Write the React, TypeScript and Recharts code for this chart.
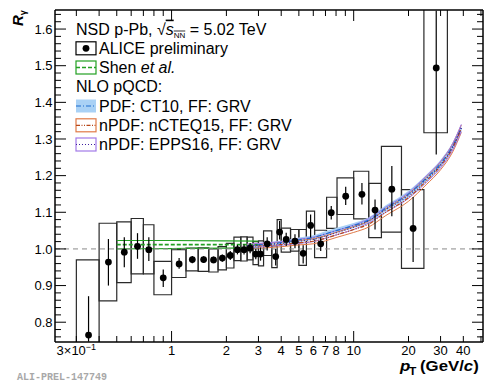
import React from "react";
import {
  ComposedChart,
  XAxis,
  YAxis,
  Scatter,
  ErrorBar,
  Area,
  Line,
  ReferenceArea,
  ReferenceLine,
} from "recharts";

// ALICE preliminary, R_gamma vs pT
const pt = [0.35, 0.45, 0.55, 0.65, 0.75, 0.9, 1.1, 1.3, 1.5, 1.7, 1.9, 2.1, 2.3, 2.5, 2.7, 2.9, 3.08, 3.35, 3.73, 3.92, 4.26, 4.76, 5.28, 5.8, 6.59, 7.53, 9.04, 11.1, 13.1, 16.2, 21.2, 28.4];
const binLo = [0.3, 0.4, 0.5, 0.6, 0.7, 0.8, 1.0, 1.2, 1.4, 1.6, 1.8, 2.0, 2.2, 2.4, 2.6, 2.8, 3.0, 3.2, 3.55, 3.8, 4.0, 4.5, 5.0, 5.5, 6.1, 7.1, 8.1, 10, 12.1, 14.2, 18.3, 24.3];
const binHi = [0.4, 0.5, 0.6, 0.7, 0.8, 1.0, 1.2, 1.4, 1.6, 1.8, 2.0, 2.2, 2.4, 2.6, 2.8, 3.0, 3.2, 3.55, 3.8, 4.0, 4.5, 5.0, 5.5, 6.1, 7.1, 8.1, 10, 12.1, 14.2, 18.3, 24.3, 32.7];
const rGamma = [0.765, 0.964, 0.991, 1.007, 0.998, 0.921, 0.959, 0.971, 0.971, 0.97, 0.975, 0.982, 0.998, 0.998, 1.002, 0.986, 0.986, 1.014, 0.979, 1.046, 1.026, 1.021, 0.988, 1.064, 1.014, 1.099, 1.144, 1.149, 1.106, 1.163, 1.056, 1.494];
const statLo = [0.747, 0.9, 0.95, 0.973, 0.967, 0.896, 0.946, 0.961, 0.962, 0.961, 0.965, 0.97, 0.985, 0.985, 0.988, 0.972, 0.968, 0.996, 0.955, 1.026, 1.008, 1.002, 0.96, 1.031, 0.994, 1.08, 1.12, 1.121, 1.053, 1.089, 0.964, 1.258];
const statHi = [0.871, 1.027, 1.032, 1.043, 1.032, 0.944, 0.975, 0.981, 0.98, 0.979, 0.985, 0.994, 1.011, 1.012, 1.016, 1.0, 1.004, 1.032, 1.0, 1.076, 1.044, 1.04, 1.01, 1.094, 1.032, 1.117, 1.17, 1.18, 1.135, 1.226, 1.142, 1.65];
const sysLo = [0.55, 0.858, 0.908, 0.932, 0.932, 0.875, 0.922, 0.94, 0.939, 0.937, 0.943, 0.948, 0.968, 0.967, 0.97, 0.957, 0.954, 0.982, 0.949, 1.012, 0.991, 0.994, 0.955, 1.026, 0.976, 1.056, 1.094, 1.082, 1.031, 1.046, 0.947, 1.317];
const sysHi = [0.97, 1.07, 1.074, 1.083, 1.066, 0.966, 0.998, 1.002, 1.003, 1.0, 1.006, 1.015, 1.032, 1.033, 1.032, 1.02, 1.022, 1.049, 1.008, 1.08, 1.057, 1.053, 1.053, 1.103, 1.051, 1.141, 1.194, 1.212, 1.179, 1.28, 1.162, 1.8];

// Shen et al.
const shenPt = [0.5, 1, 2, 3];
const shenLo = [1.0, 1.001, 1.002, 1.003];
const shenMid = [1.012, 1.012, 1.012, 1.011];
const shenHi = [1.023, 1.023, 1.022, 1.021];

// NLO pQCD
const nloPt = [2.6, 3, 4, 5, 6, 7, 8, 10, 12, 15, 20, 25, 30, 35, 39];
const ct10Lo = [1.004, 1.006, 1.012, 1.019, 1.025, 1.034, 1.043, 1.057, 1.071, 1.103, 1.141, 1.184, 1.223, 1.271, 1.32];
const ct10Mid = [1.009, 1.011, 1.017, 1.025, 1.031, 1.041, 1.05, 1.064, 1.078, 1.111, 1.15, 1.193, 1.233, 1.281, 1.33];
const ct10Hi = [1.014, 1.016, 1.022, 1.031, 1.037, 1.048, 1.057, 1.071, 1.085, 1.119, 1.159, 1.202, 1.243, 1.291, 1.34];
const ncteqLo = [1.0, 1.002, 1.006, 1.011, 1.014, 1.022, 1.031, 1.045, 1.059, 1.091, 1.13, 1.175, 1.216, 1.265, 1.318];
const ncteqMid = [1.006, 1.008, 1.012, 1.017, 1.021, 1.029, 1.038, 1.053, 1.067, 1.1, 1.14, 1.185, 1.227, 1.276, 1.328];
const ncteqHi = [1.012, 1.014, 1.018, 1.023, 1.028, 1.036, 1.045, 1.061, 1.075, 1.109, 1.15, 1.195, 1.238, 1.287, 1.338];
const eppsLo = [1.003, 1.005, 1.01, 1.015, 1.02, 1.029, 1.038, 1.053, 1.07, 1.1, 1.138, 1.181, 1.221, 1.27, 1.32];
const eppsMid = [1.008, 1.01, 1.015, 1.021, 1.026, 1.035, 1.044, 1.059, 1.076, 1.107, 1.146, 1.19, 1.23, 1.279, 1.33];
const eppsHi = [1.013, 1.015, 1.02, 1.027, 1.032, 1.041, 1.05, 1.065, 1.082, 1.114, 1.154, 1.199, 1.239, 1.288, 1.34];

// axes
const xTicks = [0.3, 0.4, 0.5, 0.6, 0.7, 0.8, 0.9, 1, 2, 3, 4, 5, 6, 7, 8, 9, 10, 20, 30, 40, 50];
const xMajorTicks = [1, 10];
const xLabelled = [0.3, 1, 2, 3, 4, 5, 6, 7, 8, 10, 20, 30, 40];
const yMajorTicks = [0.8, 0.9, 1.0, 1.1, 1.2, 1.3, 1.4, 1.5, 1.6];

const X_DOMAIN = [0.229, 51.3];
const Y_DOMAIN = [0.746, 1.652];
const FONT = "'Liberation Sans', Arial, Helvetica, sans-serif";

const yTicks: number[] = [];
for (let k = 76; k <= 164; k += 2) yTicks.push(k / 100);
const isYMajor = (v: number) => yMajorTicks.some((m) => Math.abs(m - v) < 1e-6);

const points = pt.map((p, i) => ({
  pt: p,
  r: rGamma[i],
  stat: [rGamma[i] - statLo[i], statHi[i] - rGamma[i]],
}));

const band = (xs: number[], lo: number[], mid: number[], hi: number[]) =>
  xs.map((p, i) => ({ pt: p, band: [lo[i], hi[i]], mid: mid[i] }));

const shen = band(shenPt, shenLo, shenMid, shenHi);
const ct10 = band(nloPt, ct10Lo, ct10Mid, ct10Hi);
const ncteq = band(nloPt, ncteqLo, ncteqMid, ncteqHi);
const epps = band(nloPt, eppsLo, eppsMid, eppsHi);

const BLUE_FILL = "#a9d1f5";
const BLUE_LINE = "#1f6fd0";
const ORANGE_EDGE = "#e07a48";
const ORANGE_LINE = "#b8481a";
const PURPLE_EDGE = "#a27ae8";
const PURPLE_LINE = "#3f1fa0";
const GREEN = "#22a022";

const BottomTick = (props: any) => {
  const { x, y, payload } = props;
  const v = payload.value;
  const len = xMajorTicks.includes(v) ? 11 : 6;
  const labelled = xLabelled.includes(v);
  return (
    <g>
      <line x1={x} x2={x} y1={y} y2={y - len} stroke="#000" strokeWidth={1} />
      {labelled && v === 0.3 && (
        <text x={x} y={y + 13} textAnchor="middle" fontSize={13} fontFamily={FONT}>
          3×10<tspan fontSize={9} dy={-5}>−1</tspan>
        </text>
      )}
      {labelled && v !== 0.3 && (
        <text x={x} y={y + 13} textAnchor="middle" fontSize={13} fontFamily={FONT}>
          {v}
        </text>
      )}
    </g>
  );
};

const TopTick = (props: any) => {
  const { x, y, payload } = props;
  const len = xMajorTicks.includes(payload.value) ? 11 : 6;
  return <line x1={x} x2={x} y1={y} y2={y + len} stroke="#000" strokeWidth={1} />;
};

const LeftTick = (props: any) => {
  const { x, y, payload } = props;
  const major = isYMajor(payload.value);
  return (
    <g>
      <line x1={x} x2={x + (major ? 11 : 6)} y1={y} y2={y} stroke="#000" strokeWidth={1} />
      {major && (
        <text x={x - 2.5} y={y + 4.6} textAnchor="end" fontSize={13} fontFamily={FONT}>
          {payload.value.toFixed(1)}
        </text>
      )}
    </g>
  );
};

const RightTick = (props: any) => {
  const { x, y, payload } = props;
  const major = isYMajor(payload.value);
  return <line x1={x} x2={x - (major ? 11 : 6)} y1={y} y2={y} stroke="#000" strokeWidth={1} />;
};

const Dot = (props: any) => <circle cx={props.cx} cy={props.cy} r={3.4} fill="#000" />;

const rows = [29, 48.3, 67.5, 86.8, 106, 125.3, 144.5];

const Legend = () => {
  const ix = 76;
  const tx = 99;
  const base = (r: number) => r + 5.6;
  const box = (r: number) => ({ x: ix, y: r - 6.5, width: 20, height: 13 });
  return (
    <g fontFamily={FONT} fontSize={16} fill="#000">
      <text x={ix} y={base(rows[0])}>
        NSD p-Pb, √<tspan fontStyle="italic" textDecoration="overline">s</tspan>
        <tspan fontSize={8} dy={3} textDecoration="overline">NN</tspan>
        <tspan dy={-3}> = 5.02 TeV</tspan>
      </text>

      <rect {...box(rows[1])} fill="none" stroke="#000" strokeWidth={1.2} />
      <circle cx={ix + 10} cy={rows[1]} r={3.4} fill="#000" />
      <text x={tx} y={base(rows[1])}>ALICE preliminary</text>

      <rect {...box(rows[2])} fill="none" stroke={GREEN} strokeWidth={1.2} />
      <line x1={ix} x2={ix + 20} y1={rows[2]} y2={rows[2]} stroke={GREEN} strokeWidth={1.5} strokeDasharray="4 2" />
      <text x={tx} y={base(rows[2])}>
        Shen <tspan fontStyle="italic">et al.</tspan>
      </text>

      <text x={ix} y={base(rows[3])}>NLO pQCD:</text>

      <rect {...box(rows[4])} fill={BLUE_FILL} stroke="none" />
      <line x1={ix} x2={ix + 20} y1={rows[4]} y2={rows[4]} stroke={BLUE_LINE} strokeWidth={1.2} strokeDasharray="5 2 1 2" />
      <text x={tx} y={base(rows[4])}>PDF: CT10, FF: GRV</text>

      <rect {...box(rows[5])} fill="none" stroke={ORANGE_EDGE} strokeWidth={1.2} />
      <line x1={ix} x2={ix + 20} y1={rows[5]} y2={rows[5]} stroke={ORANGE_LINE} strokeWidth={1.2} strokeDasharray="4 1.5 1 1.5 1 1.5" />
      <text x={tx} y={base(rows[5])}>nPDF: nCTEQ15, FF: GRV</text>

      <rect {...box(rows[6])} fill="none" stroke={PURPLE_EDGE} strokeWidth={1.2} />
      <line x1={ix} x2={ix + 20} y1={rows[6]} y2={rows[6]} stroke={PURPLE_LINE} strokeWidth={1.2} strokeDasharray="1 2" />
      <text x={tx} y={base(rows[6])}>nPDF: EPPS16, FF: GRV</text>
    </g>
  );
};

const axisLine = { stroke: "#000", strokeWidth: 1.5 };

export default function App() {
  return (
    <div style={{ position: "absolute", left: 0, top: 0, width: 485, height: 383, background: "#fff" }}>
      <ComposedChart width={485} height={383} margin={{ top: 9, right: 1, bottom: 40, left: 54 }}>
        <XAxis
          dataKey="pt"
          type="number"
          scale="log"
          domain={X_DOMAIN}
          allowDataOverflow
          ticks={xTicks}
          interval={0}
          height={1}
          tickSize={0}
          tickMargin={0}
          tickLine={false}
          tick={(p: any) => <BottomTick {...p} />}
          axisLine={axisLine}
        />
        <XAxis
          xAxisId="top"
          orientation="top"
          dataKey="pt"
          type="number"
          scale="log"
          domain={X_DOMAIN}
          allowDataOverflow
          ticks={xTicks}
          interval={0}
          height={1}
          tickSize={0}
          tickMargin={0}
          tickLine={false}
          tick={(p: any) => <TopTick {...p} />}
          axisLine={axisLine}
        />
        <YAxis
          type="number"
          domain={Y_DOMAIN}
          allowDataOverflow
          ticks={yTicks}
          interval={0}
          width={1}
          tickSize={0}
          tickMargin={0}
          tickLine={false}
          tick={(p: any) => <LeftTick {...p} />}
          axisLine={axisLine}
        />
        <YAxis
          yAxisId="right"
          orientation="right"
          type="number"
          domain={Y_DOMAIN}
          allowDataOverflow
          ticks={yTicks}
          interval={0}
          width={1}
          tickSize={0}
          tickMargin={0}
          tickLine={false}
          tick={(p: any) => <RightTick {...p} />}
          axisLine={axisLine}
        />

        <ReferenceLine y={1} stroke="#8a8a8a" strokeDasharray="5 4" strokeWidth={1} />

        {pt.map((p, i) => (
          <ReferenceArea
            key={"sys" + i}
            x1={binLo[i]}
            x2={binHi[i]}
            y1={sysLo[i]}
            y2={sysHi[i]}
            fill="none"
            fillOpacity={0}
            stroke="#2a2a2a"
            strokeWidth={1.2}
            ifOverflow="hidden"
          />
        ))}

        <Area data={shen} dataKey="band" type="monotone" fill="none" stroke={GREEN} strokeWidth={1.2} isAnimationActive={false} />
        <Line data={shen} dataKey="mid" type="monotone" stroke={GREEN} strokeWidth={1.8} strokeDasharray="4 2" dot={false} isAnimationActive={false} />

        <Area data={ct10} dataKey="band" type="monotone" fill={BLUE_FILL} fillOpacity={1} stroke="none" isAnimationActive={false} />
        <Line data={ct10} dataKey="mid" type="monotone" stroke={BLUE_LINE} strokeWidth={1.2} strokeDasharray="5 2 1 2" dot={false} isAnimationActive={false} />

        <Area data={ncteq} dataKey="band" type="monotone" fill="none" stroke={ORANGE_EDGE} strokeWidth={1} isAnimationActive={false} />
        <Line data={ncteq} dataKey="mid" type="monotone" stroke={ORANGE_LINE} strokeWidth={1.2} strokeDasharray="4 1.5 1 1.5 1 1.5" dot={false} isAnimationActive={false} />

        <Area data={epps} dataKey="band" type="monotone" fill="none" stroke={PURPLE_EDGE} strokeWidth={1} isAnimationActive={false} />
        <Line data={epps} dataKey="mid" type="monotone" stroke={PURPLE_LINE} strokeWidth={1.2} strokeDasharray="1 2" dot={false} isAnimationActive={false} />

        <Scatter data={points} dataKey="r" shape={(p: any) => <Dot {...p} />} isAnimationActive={false}>
          <ErrorBar dataKey="stat" direction="y" width={0} stroke="#000" strokeWidth={1.2} />
        </Scatter>
      </ComposedChart>

      <svg width={485} height={383} style={{ position: "absolute", left: 0, top: 0, pointerEvents: "none" }}>
        <Legend />
        <text
          transform="translate(23,26) rotate(-90)"
          fontFamily={FONT}
          fontSize={15}
          fontWeight="bold"
          fontStyle="italic"
        >
          R<tspan fontSize={9} fontStyle="normal" dy={3}>γ</tspan>
        </text>
        <text
          transform="translate(400,370.5) scale(1.2,1)"
          fontFamily={FONT}
          fontSize={14}
          fontWeight="bold"
        >
          <tspan fontStyle="italic">p</tspan>
          <tspan fontSize={10} dy={4} dx={-1}>T</tspan>
          <tspan dy={-4} dx={3}>(GeV/</tspan>
          <tspan fontStyle="italic">c</tspan>
          <tspan>)</tspan>
        </text>
        <text x={17} y={380} fontFamily="'Liberation Mono', 'DejaVu Sans Mono', monospace" fontSize={10} fontWeight="bold" fill="#a8a8a8">
          ALI-PREL-147749
        </text>
      </svg>
    </div>
  );
}
